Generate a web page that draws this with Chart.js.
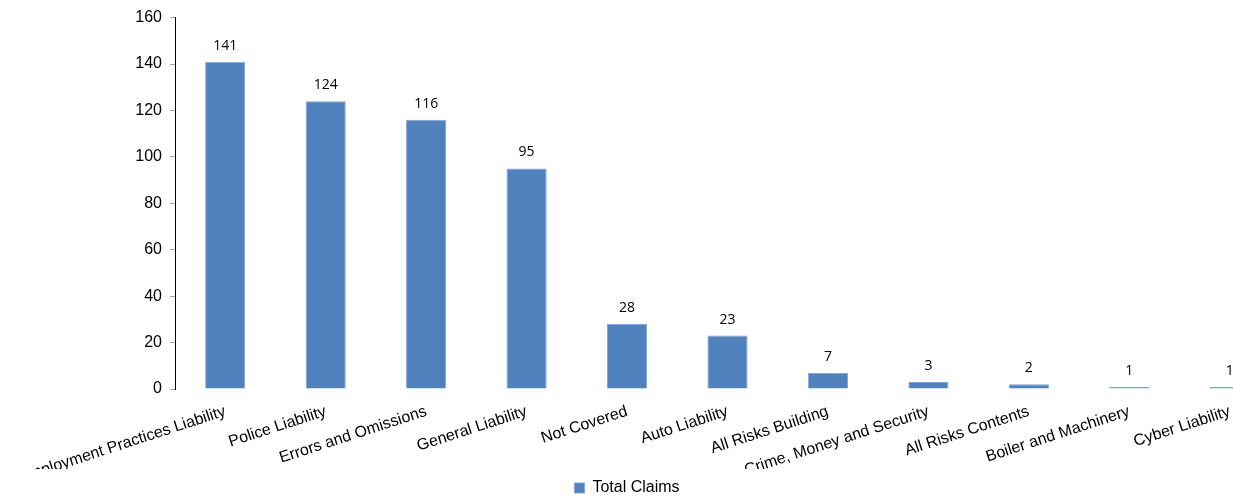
<!DOCTYPE html>
<html>
<head>
<meta charset="utf-8">
<title>Total Claims</title>
<script src="https://cdn.jsdelivr.net/npm/chart.js@4.4.1/dist/chart.umd.min.js"></script>
<style>
  html, body { margin: 0; padding: 0; background: #fff; overflow: hidden; }
  #wrap { width: 1280px; height: 497px; position: relative; }
</style>
</head>
<body>
<div id="wrap"><canvas id="claimsChart"></canvas></div>
<script>
// claim counts by coverage line
const categories = [
    'Employment Practices Liability', 'Police Liability', 'Errors and Omissions',
    'General Liability', 'Not Covered', 'Auto Liability', 'All Risks Building',
    'Crime, Money and Security', 'All Risks Contents', 'Boiler and Machinery', 'Cyber Liability'
];
const totalClaims = [141, 124, 116, 95, 28, 23, 7, 3, 2, 1, 1];
const yTicks = [0, 20, 40, 60, 80, 100, 120, 140, 160];

const BAR_COLOR = '#4F81BD';
const FONT = '"Liberation Sans", Arial, sans-serif';

// value labels above each bar
const barLabels = {
    id: 'barLabels',
    afterDatasetsDraw(chart) {
        const ctx = chart.ctx;
        const meta = chart.getDatasetMeta(0);
        ctx.save();
        ctx.font = '14px "Open Sans", "DejaVu Sans", sans-serif';
        ctx.fillStyle = '#000';
        ctx.textAlign = 'center';
        ctx.textBaseline = 'bottom';
        meta.data.forEach((bar, i) => {
            ctx.fillText(String(totalClaims[i]), bar.x, bar.y - 9);
        });
        ctx.restore();
    }
};

// move the legend a bit left and down from where the layout puts it
const legendShift = {
    id: 'legendShift',
    afterLayout(chart) {
        const lg = chart.legend;
        if (!lg) return;
        lg.right -= 26;
        lg.top += 9;
        lg.bottom += 9;
    }
};

new Chart(document.getElementById('claimsChart'), {
    type: 'bar',
    data: {
        labels: categories,
        datasets: [{
            label: 'Total Claims',
            data: totalClaims,
            backgroundColor: BAR_COLOR,
            borderColor: '#7EA6DA',
            borderWidth: 1,
            barPercentage: 0.4,
            categoryPercentage: 1.0
        }]
    },
    options: {
        responsive: true,
        maintainAspectRatio: false,
        animation: false,
        layout: { padding: { top: 16, left: 0, right: 0, bottom: 0 } },
        plugins: {
            legend: {
                position: 'bottom',
                labels: {
                    boxWidth: 10,
                    boxHeight: 10,
                    padding: 2,
                    color: '#000',
                    font: { family: FONT, size: 16 }
                }
            },
            tooltip: { enabled: false }
        },
        scales: {
            x: {
                grid: { display: false },
                border: { display: false },
                ticks: {
                    autoSkip: false,
                    maxRotation: 18,
                    minRotation: 18,
                    padding: 5,
                    color: '#000',
                    font: { family: FONT, size: 16 }
                },
                afterFit(scale) { scale.height = 80; }
            },
            y: {
                min: 0,
                max: 160,
                afterBuildTicks(scale) {
                    scale.ticks = yTicks.map(v => ({ value: v }));
                },
                grid: {
                    drawOnChartArea: false,
                    drawTicks: true,
                    tickLength: 5,
                    color: '#A6A6A6'
                },
                border: { display: true, color: '#000', width: 1 },
                ticks: {
                    padding: 8,
                    color: '#000',
                    font: { family: FONT, size: 16 }
                },
                afterFit(scale) { scale.width = 175; }
            }
        }
    },
    plugins: [barLabels, legendShift]
});
</script>
</body>
</html>
